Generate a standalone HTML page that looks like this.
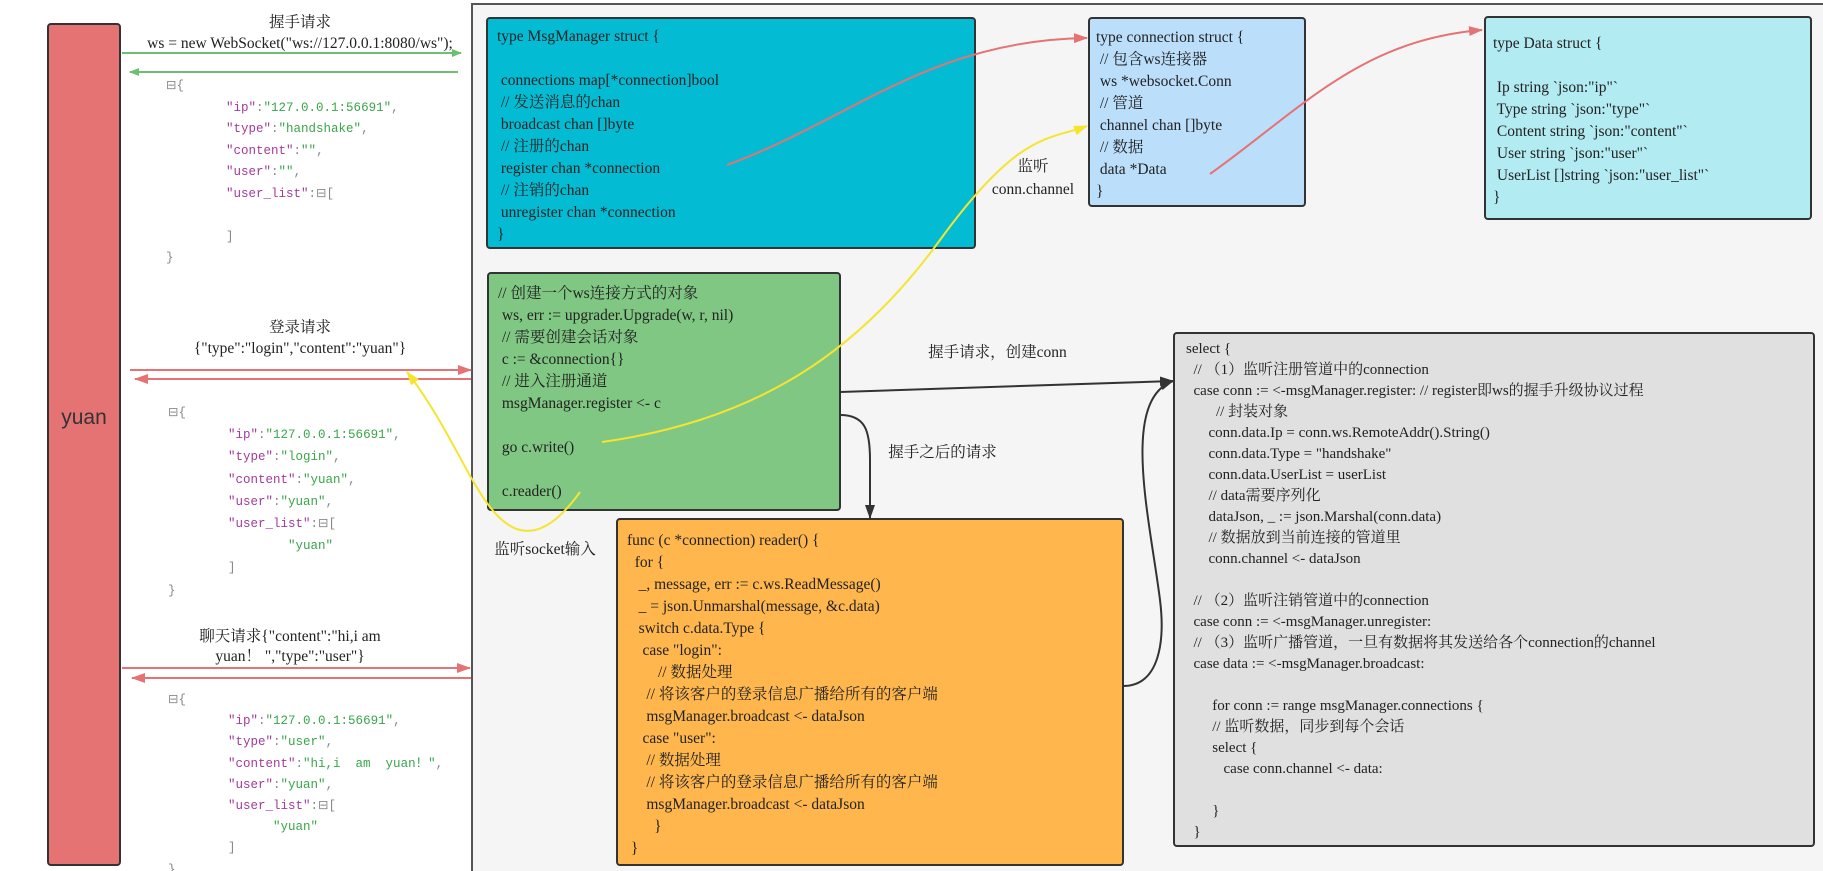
<!DOCTYPE html>
<html style="margin:0;width:1823px;height:871px;overflow:hidden"><head><meta charset="utf-8"><style>
body{margin:0;width:1823px;height:871px;background:#fff;position:relative;overflow:hidden;font-family:"Liberation Serif","Noto Serif CJK SC","Noto Sans CJK SC",serif;color:#222}
.a{position:absolute;white-space:pre}
.box{position:absolute;border:2px solid #333;border-radius:4px;box-sizing:border-box}
.t{position:absolute;white-space:pre;font-size:15.5px;line-height:22px}
.j{position:absolute;white-space:pre;font-family:"Liberation Mono","Noto Sans CJK SC",monospace;font-size:12.5px;line-height:21.5px;color:#888}
.k{color:#a23b9a}.v{color:#3aa54a}
.lab{position:absolute;white-space:pre;font-size:15.5px;text-align:center;line-height:20px}
</style></head><body>
<div style="position:absolute;left:471px;top:3px;width:1400px;height:870px;background:#f5f5f5;border:2px solid #555;box-sizing:border-box"></div>
<div class="box" style="left:47px;top:23px;width:74px;height:843px;background:#e57373"></div>
<div class="a" style="left:47px;top:406px;width:74px;text-align:center;font-family:'Liberation Sans',sans-serif;font-size:21px;color:#333">yuan</div>

<div class="lab" style="left:130px;top:13px;width:340px">握手请求</div>
<div class="lab" style="left:130px;top:34px;width:340px">ws = new WebSocket("ws://127.0.0.1:8080/ws");</div>
<div class="lab" style="left:130px;top:318px;width:340px">登录请求</div>
<div class="lab" style="left:130px;top:339px;width:340px">{"type":"login","content":"yuan"}</div>
<div class="lab" style="left:170px;top:627px;width:240px">聊天请求{"content":"hi,i am</div>
<div class="lab" style="left:170px;top:647px;width:240px">yuan！ ","type":"user"}</div>

<div class="j" style="left:166px;top:76px">⊟{
<span>        </span><span class="k">"ip"</span>:<span class="v">"127.0.0.1:56691"</span>,
<span>        </span><span class="k">"type"</span>:<span class="v">"handshake"</span>,
<span>        </span><span class="k">"content"</span>:<span class="v">""</span>,
<span>        </span><span class="k">"user"</span>:<span class="v">""</span>,
<span>        </span><span class="k">"user_list"</span>:⊟[

        ]
}</div>
<div class="j" style="left:168px;top:402px;line-height:22.2px">⊟{
<span>        </span><span class="k">"ip"</span>:<span class="v">"127.0.0.1:56691"</span>,
<span>        </span><span class="k">"type"</span>:<span class="v">"login"</span>,
<span>        </span><span class="k">"content"</span>:<span class="v">"yuan"</span>,
<span>        </span><span class="k">"user"</span>:<span class="v">"yuan"</span>,
<span>        </span><span class="k">"user_list"</span>:⊟[
<span class="v">                "yuan"</span>
        ]
}</div>
<div class="j" style="left:168px;top:690px;line-height:21.2px">⊟{
<span>        </span><span class="k">"ip"</span>:<span class="v">"127.0.0.1:56691"</span>,
<span>        </span><span class="k">"type"</span>:<span class="v">"user"</span>,
<span>        </span><span class="k">"content"</span>:<span class="v">"hi,i  am  yuan！"</span>,
<span>        </span><span class="k">"user"</span>:<span class="v">"yuan"</span>,
<span>        </span><span class="k">"user_list"</span>:⊟[
<span class="v">              "yuan"</span>
        ]
}</div>

<div class="box" style="left:486px;top:17px;width:490px;height:232px;background:#03bcd4"></div>
<div class="t" style="left:497px;top:26px">type MsgManager struct {

 connections map[*connection]bool
 // 发送消息的chan
 broadcast chan []byte
 // 注册的chan
 register chan *connection
 // 注销的chan
 unregister chan *connection
}</div>

<div class="box" style="left:1088px;top:17px;width:218px;height:190px;background:#bbdefb"></div>
<div class="t" style="left:1096px;top:27px">type connection struct {
 // 包含ws连接器
 ws *websocket.Conn
 // 管道
 channel chan []byte
 // 数据
 data *Data
}</div>

<div class="box" style="left:1484px;top:16px;width:328px;height:204px;background:#b2ebf2"></div>
<div class="t" style="left:1493px;top:33px">type Data struct {

 Ip string `json:"ip"`
 Type string `json:"type"`
 Content string `json:"content"`
 User string `json:"user"`
 UserList []string `json:"user_list"`
}</div>

<div class="box" style="left:487px;top:272px;width:354px;height:239px;background:#80c783"></div>
<div class="t" style="left:498px;top:283px">// 创建一个ws连接方式的对象
 ws, err := upgrader.Upgrade(w, r, nil)
 // 需要创建会话对象
 c := &amp;connection{}
 // 进入注册通道
 msgManager.register &lt;- c

 go c.write()

 c.reader()</div>

<div class="box" style="left:616px;top:518px;width:508px;height:348px;background:#ffb74d"></div>
<div class="t" style="left:627px;top:530px">func (c *connection) reader() {
  for {
   _, message, err := c.ws.ReadMessage()
   _ = json.Unmarshal(message, &amp;c.data)
   switch c.data.Type {
    case "login":
        // 数据处理
     // 将该客户的登录信息广播给所有的客户端
     msgManager.broadcast &lt;- dataJson
    case "user":
     // 数据处理
     // 将该客户的登录信息广播给所有的客户端
     msgManager.broadcast &lt;- dataJson
       }
 }</div>

<div class="box" style="left:1173px;top:332px;width:642px;height:515px;background:#e0e0e0"></div>
<div class="t" style="left:1186px;top:339px;line-height:21px;font-size:15px">select {
  // （1）监听注册管道中的connection
  case conn := &lt;-msgManager.register: // register即ws的握手升级协议过程
        // 封装对象
      conn.data.Ip = conn.ws.RemoteAddr().String()
      conn.data.Type = "handshake"
      conn.data.UserList = userList
      // data需要序列化
      dataJson, _ := json.Marshal(conn.data)
      // 数据放到当前连接的管道里
      conn.channel &lt;- dataJson

  // （2）监听注销管道中的connection
  case conn := &lt;-msgManager.unregister:
  // （3）监听广播管道，一旦有数据将其发送给各个connection的channel
  case data := &lt;-msgManager.broadcast:

       for conn := range msgManager.connections {
       // 监听数据，同步到每个会话
       select {
          case conn.channel &lt;- data:

       }
  }</div>

<div class="lab" style="left:993px;top:157px;width:80px">监听</div>
<div class="lab" style="left:983px;top:180px;width:100px">conn.channel</div>
<div class="lab" style="left:905px;top:343px;width:185px">握手请求，创建conn</div>
<div class="lab" style="left:875px;top:443px;width:135px">握手之后的请求</div>
<div class="lab" style="left:480px;top:540px;width:130px">监听socket输入</div>

<svg style="position:absolute;left:0;top:0" width="1823" height="871">
<defs>
<marker id="g" markerWidth="10" markerHeight="8" refX="9" refY="4" orient="auto" markerUnits="userSpaceOnUse"><path d="M0,0L10,4L0,8z" fill="#6cc070"/></marker>
<marker id="r" markerWidth="14" markerHeight="10" refX="13" refY="5" orient="auto" markerUnits="userSpaceOnUse"><path d="M0,0L14,5L0,10z" fill="#e57373"/></marker>
<marker id="y" markerWidth="14" markerHeight="10" refX="13" refY="5" orient="auto" markerUnits="userSpaceOnUse"><path d="M0,0L14,5L0,10z" fill="#f5e430"/></marker>
<marker id="b" markerWidth="14" markerHeight="10" refX="13" refY="5" orient="auto" markerUnits="userSpaceOnUse"><path d="M0,0L14,5L0,10z" fill="#333"/></marker>
</defs>
<g fill="none" stroke-width="2">
<path d="M122,53H461" stroke="#6cc070" marker-end="url(#g)"/>
<path d="M458,72H130" stroke="#6cc070" marker-end="url(#g)"/>
<path d="M130,370H471" stroke="#e57373" marker-end="url(#r)"/>
<path d="M471,379H135" stroke="#e57373" marker-end="url(#r)"/>
<path d="M122,668H470" stroke="#e57373" marker-end="url(#r)"/>
<path d="M471,678H132" stroke="#e57373" marker-end="url(#r)"/>
<path d="M727,165C850,120 930,40 1087,38" stroke="#e57373" marker-end="url(#r)"/>
<path d="M1210,174C1300,110 1360,40 1482,30" stroke="#e57373" marker-end="url(#r)"/>
<path d="M602,442C760,420 860,350 940,240S1050,140 1087,126" stroke="#f5e430" marker-end="url(#y)"/>
<path d="M580,492C560,520 540,535 520,530C480,520 460,440 407,372" stroke="#f5e430" marker-end="url(#y)"/>
<path d="M840,392L1173,381" stroke="#333" marker-end="url(#b)"/>
<path d="M840,415C865,415 870,430 870,460L870,518" stroke="#333" marker-end="url(#b)"/>
<path d="M1123,686C1160,686 1165,640 1160,600C1150,520 1120,400 1173,381" stroke="#333" marker-end="url(#b)"/>
</g>
</svg>
</body></html>
